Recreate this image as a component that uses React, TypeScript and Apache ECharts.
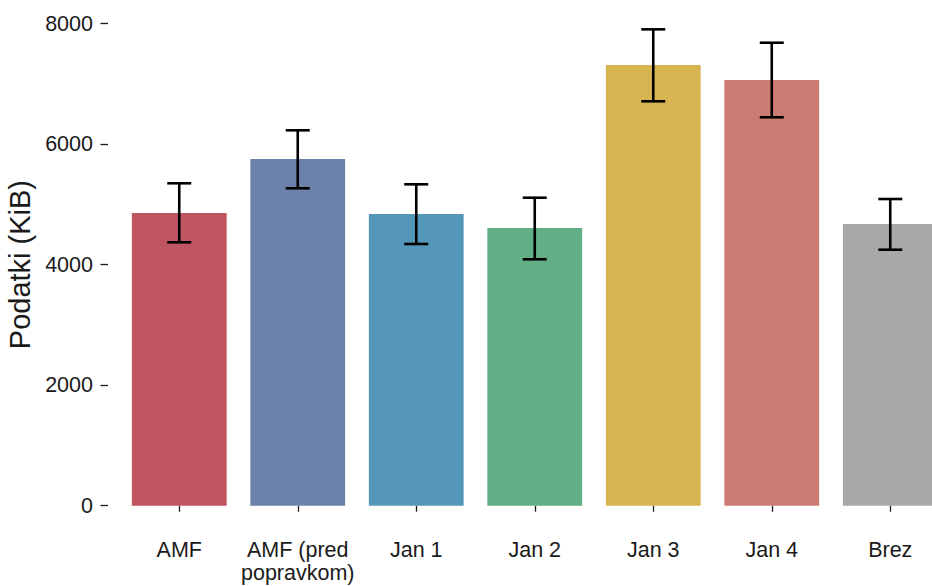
import React, { useEffect, useRef } from "react";
import * as echarts from "echarts";

const categories = ["AMF", "AMF (pred\npopravkom)", "Jan 1", "Jan 2", "Jan 3", "Jan 4", "Brez"];
const means = [4856, 5752, 4839, 4607, 7311, 7062, 4673];
const lower = [4370, 5266, 4342, 4088, 6709, 6444, 4247];
const upper = [5349, 6228, 5332, 5110, 7903, 7681, 5088];
const colors = ["#BF5561", "#6C82AB", "#5597B9", "#62AE85", "#D6B44F", "#CB7A74", "#A8A8A8"];
const yTicks = [0, 2000, 4000, 6000, 8000];

const FONT = "Arial, 'Liberation Sans', Helvetica, sans-serif";
const TXT = "#1a1a1a";

export default function App() {
  const ref = useRef<HTMLDivElement>(null);
  useEffect(() => {
    if (!ref.current) return;
    const chart = echarts.init(ref.current, undefined, { renderer: "svg" });
    chart.setOption({
      animation: false,
      textStyle: { fontFamily: FONT },
      grid: {
        left: 120,
        width: 829.5,
        top: 23.5,
        height: 482.2,
        containLabel: false,
        outerBoundsMode: "none",
      },
      xAxis: {
        type: "category",
        data: categories,
        offset: 23.5,
        axisLine: { show: false },
        axisTick: { show: true, alignWithLabel: true, length: 6, lineStyle: { color: TXT, width: 1.3 } },
        axisLabel: { fontSize: 21.5, color: TXT, fontFamily: FONT, margin: 9, lineHeight: 23, interval: 0 },
        splitLine: { show: false },
      },
      yAxis: {
        type: "value",
        min: yTicks[0],
        max: yTicks[yTicks.length - 1],
        interval: 2000,
        offset: 12,
        name: "Podatki (KiB)",
        nameLocation: "middle",
        nameGap: 70,
        nameTextStyle: { fontSize: 29, color: TXT, fontFamily: FONT },
        axisLine: { show: false },
        axisTick: { show: true, length: 7.5, lineStyle: { color: TXT, width: 1.3 } },
        axisLabel: { fontSize: 21.5, color: TXT, fontFamily: FONT, margin: 15, formatter: (v: number) => String(v) },
        splitLine: { show: false },
      },
      series: [
        {
          type: "bar",
          barWidth: "80%",
          data: means.map((v, i) => ({ value: v, itemStyle: { color: colors[i] } })),
        },
        {
          type: "custom",
          z: 10,
          data: categories.map((_, i) => [i, lower[i], upper[i]]),
          renderItem: (params: any, api: any) => {
            const x = api.value(0);
            const lo = api.coord([x, api.value(1)]);
            const hi = api.coord([x, api.value(2)]);
            const half = 12;
            const style = { stroke: "#000", lineWidth: 2.6, fill: "none" };
            return {
              type: "group",
              children: [
                { type: "line", shape: { x1: hi[0], y1: hi[1], x2: lo[0], y2: lo[1] }, style },
                { type: "line", shape: { x1: hi[0] - half, y1: hi[1], x2: hi[0] + half, y2: hi[1] }, style },
                { type: "line", shape: { x1: lo[0] - half, y1: lo[1], x2: lo[0] + half, y2: lo[1] }, style },
              ],
            };
          },
        },
      ],
    });
    return () => chart.dispose();
  }, []);
  return <div ref={ref} style={{ width: 932, height: 586, position: "absolute", left: 0, top: 0 }} />;
}
